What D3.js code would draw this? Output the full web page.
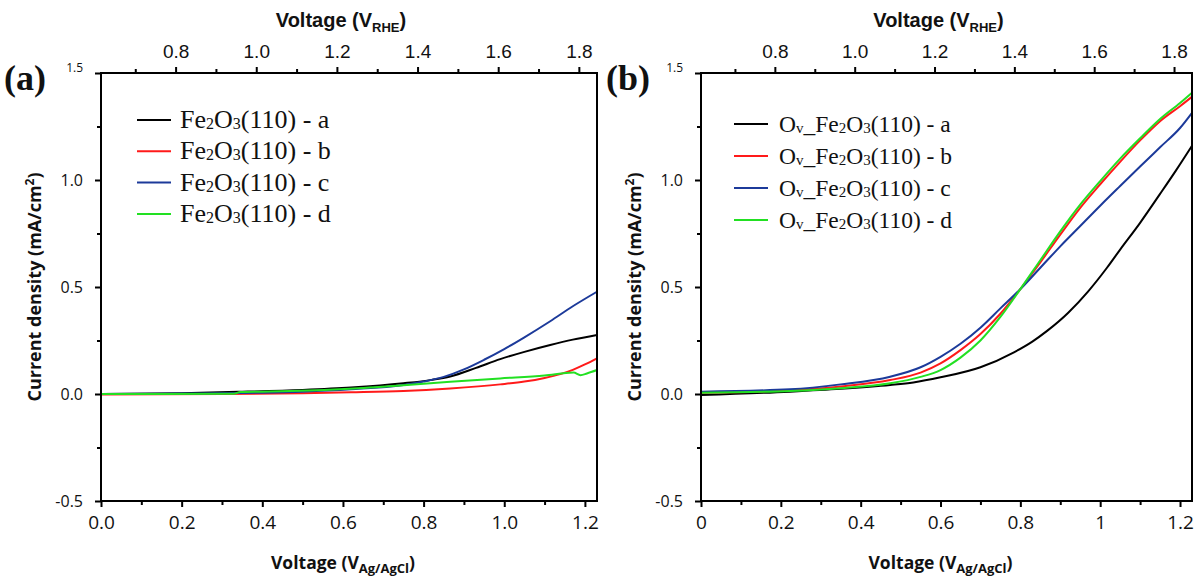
<!DOCTYPE html>
<html>
<head>
<meta charset="utf-8">
<script src="https://cdn.jsdelivr.net/npm/d3@7"></script>
<style>
  body { margin: 0; background: #ffffff; position: relative; }
  svg { display: block; }
  .box { position: absolute; box-sizing: border-box; border: 2px solid #000000; pointer-events: none; }
</style>
</head>
<body>
<svg id="chart" width="1196" height="579"></svg>
<script>
// ---- data: [V vs Ag/AgCl, current density mA/cm2] ----
const fe2o3A = [[0, 0.0], [0.2, 0.004], [0.34, 0.01], [0.5, 0.019], [0.62, 0.03], [0.75, 0.05], [0.82, 0.066], [0.866, 0.082], [0.93, 0.122], [0.99, 0.163], [1.05, 0.197], [1.114, 0.229], [1.17, 0.254], [1.23, 0.276]];
const fe2o3B = [[0, -0.002], [0.3, 0.0], [0.5, 0.004], [0.62, 0.008], [0.75, 0.014], [0.866, 0.026], [0.99, 0.045], [1.05, 0.058], [1.1, 0.075], [1.139, 0.093], [1.17, 0.113], [1.2, 0.138], [1.23, 0.167]];
const fe2o3C = [[0, 0.0], [0.2, 0.002], [0.4, 0.006], [0.5, 0.011], [0.62, 0.022], [0.75, 0.042], [0.8, 0.058], [0.85, 0.08], [0.9, 0.115], [0.95, 0.16], [1.0, 0.21], [1.05, 0.265], [1.114, 0.34], [1.17, 0.41], [1.23, 0.478]];
const fe2o3D = [[0, 0.0], [0.33, 0.001], [0.345, 0.009], [0.4, 0.011], [0.494, 0.015], [0.617, 0.025], [0.742, 0.04], [0.866, 0.057], [0.99, 0.073], [1.1, 0.087], [1.172, 0.1], [1.189, 0.088], [1.205, 0.096], [1.23, 0.112]];

const ovA = [[0, -0.005], [0.223, 0.011], [0.35, 0.024], [0.474, 0.042], [0.532, 0.054], [0.6, 0.078], [0.7, 0.125], [0.784, 0.195], [0.83, 0.245], [0.867, 0.295], [0.92, 0.38], [0.97, 0.48], [1.017, 0.59], [1.05, 0.675], [1.1, 0.8], [1.15, 0.935], [1.19, 1.045], [1.23, 1.16]];
const ovB = [[0, 0.006], [0.223, 0.017], [0.35, 0.035], [0.474, 0.065], [0.55, 0.1], [0.6, 0.143], [0.65, 0.205], [0.7, 0.28], [0.75, 0.375], [0.8, 0.49], [0.85, 0.615], [0.9, 0.745], [0.95, 0.87], [1.0, 0.98], [1.05, 1.085], [1.1, 1.185], [1.15, 1.275], [1.2, 1.345], [1.23, 1.389]];
const ovC = [[0, 0.011], [0.223, 0.022], [0.35, 0.045], [0.474, 0.081], [0.55, 0.125], [0.6, 0.174], [0.65, 0.235], [0.7, 0.31], [0.75, 0.4], [0.8, 0.49], [0.85, 0.59], [0.9, 0.69], [0.95, 0.785], [1.0, 0.88], [1.05, 0.972], [1.1, 1.063], [1.15, 1.153], [1.2, 1.243], [1.23, 1.314]];
const ovD = [[0, 0.006], [0.223, 0.014], [0.35, 0.027], [0.474, 0.05], [0.55, 0.08], [0.6, 0.112], [0.65, 0.17], [0.7, 0.25], [0.75, 0.36], [0.8, 0.49], [0.85, 0.625], [0.9, 0.76], [0.95, 0.885], [1.0, 0.995], [1.05, 1.1], [1.1, 1.195], [1.15, 1.285], [1.2, 1.36], [1.23, 1.408]];

const seriesSuffix = ['a', 'b', 'c', 'd'];
const seriesColors = ['#000000', '#ff1a1a', '#1c3a9a', '#22e022'];
const ink = '#000000';
const labelInk = '#111111';

const agTicks = [0, 0.2, 0.4, 0.6, 0.8, 1.0, 1.2];
const agMinor = [0.1, 0.3, 0.5, 0.7, 0.9, 1.1];
const rheTicks = [0.8, 1.0, 1.2, 1.4, 1.6, 1.8];
const rheMinor = [0.7, 0.9, 1.1, 1.3, 1.5, 1.7];
const jTicks = [-0.5, 0, 0.5, 1.0, 1.5];
const jMinor = [-0.25, 0.25, 0.75, 1.25];

const xMax = 1.23;       // right edge, V vs Ag/AgCl
const rheOffset = 0.615; // V_RHE = V_AgCl + offset

const svg = d3.select('#chart');
const sansBody = '"Open Sans", "DejaVu Sans", sans-serif';
const sansTop = '"Liberation Sans", Arial, sans-serif';
const serif = '"Liberation Serif", "Times New Roman", serif';
const fmt1 = d => d3.format('.1f')(d).replace('\u2212', '-');

// draws one panel; left/right are pixel edges of the plot box
function drawPanel(p) {
    const top = 73, bottom = 501;
    const x = d3.scaleLinear().domain([0, xMax]).range([p.left, p.right]);
    const xt = d3.scaleLinear().domain([rheOffset, xMax + rheOffset]).range([p.left, p.right]);
    const y = d3.scaleLinear().domain([-0.5, 1.5]).range([bottom, top]);
    const g = svg.append('g');

    // frame, drawn as filled bars 2px thick
    const frame = [
        [p.left - 1, top - 1, p.right - p.left + 2, 2], [p.right - 1, top - 1, 2, bottom - top + 2],
        [p.left - 1, bottom - 1, p.right - p.left + 2, 2], [p.left - 1, top - 1, 2, bottom - top + 2]
    ];
    g.selectAll('rect.frame').data(frame).join('rect').attr('class', 'frame')
        .attr('x', d => d[0]).attr('y', d => d[1]).attr('width', d => d[2]).attr('height', d => d[3])
        .attr('fill', ink);

    // same box once more as an html outline, placed from the scale ranges
    const [x0, x1] = x.range();
    const [y0, y1] = y.range();
    d3.select('body').append('div').attr('class', 'box')
        .style('left', `${x0 - 1}px`).style('top', `${y1 - 1}px`)
        .style('width', `${x1 - x0 + 2}px`).style('height', `${y0 - y1 + 2}px`);

    // minor + major ticks, outward; [axis, transform, class, side, length]
    const axes = [
        [d3.axisBottom(x).tickValues(agMinor).tickSize(4).tickFormat(() => ''), `translate(0,${bottom})`, null, 'b', 4],
        [d3.axisBottom(x).tickValues(agTicks).tickSize(6).tickFormat(p.agFormat), `translate(0,${bottom})`, 'bottom', 'b', 6],
        [d3.axisTop(xt).tickValues(rheMinor).tickSize(4).tickFormat(() => ''), `translate(0,${top})`, null, 't', 4],
        [d3.axisTop(xt).tickValues(rheTicks).tickSize(6).tickFormat(fmt1), `translate(0,${top})`, 'top', 't', 6],
        [d3.axisLeft(y).tickValues(jMinor).tickSize(4).tickFormat(() => ''), `translate(${p.left},0)`, null, 'l', 4],
        [d3.axisLeft(y).tickValues(jTicks).tickSize(6).tickFormat(fmt1), `translate(${p.left},0)`, 'left', 'l', 6]
    ];
    axes.forEach(([ax, tr, cls, side, len]) => {
        const a = g.append('g').attr('transform', tr).call(ax);
        a.select('.domain').remove();
        a.selectAll('.tick line').remove();
        // tick marks as small filled bars so they render the same as the frame
        a.selectAll('.tick').append('rect')
            .attr('x', side === 'l' ? -len : -1)
            .attr('y', side === 't' ? -len : (side === 'b' ? 0 : -1))
            .attr('width', side === 'l' ? len : 2)
            .attr('height', side === 'l' ? 2 : len)
            .attr('fill', ink);
        if (cls) a.attr('class', cls);
    });

    g.selectAll('.bottom text').attr('font-family', sansBody).attr('font-size', 19).attr('dy', '1.0em').attr('fill', labelInk);
    g.selectAll('.top text').attr('font-family', sansTop).attr('font-size', 19).attr('dy', '-0.3em').attr('fill', labelInk);
    g.selectAll('.left text').attr('font-family', sansBody).attr('font-size', 16).attr('fill', labelInk).attr('x', -18);
    // the 1.5 label is set smaller and raised in the original
    g.selectAll('.left .tick').filter(d => d === 1.5).select('text')
        .attr('font-size', 12).attr('dy', '-0.15em');

    // curves
    const line = d3.line().x(d => x(d[0])).y(d => y(d[1])).curve(d3.curveMonotoneX);
    p.series.forEach((s, i) => {
        g.append('path').datum(s).attr('d', line)
            .attr('fill', 'none').attr('stroke', seriesColors[i]).attr('stroke-width', 2);
    });

    // legend
    const subSize = Math.round(p.legendFont * 0.62);
    seriesSuffix.forEach((s, i) => {
        const ly = p.legendY + i * p.legendStep;
        g.append('line').attr('x1', p.legendX).attr('x2', p.legendX + 34)
            .attr('y1', ly).attr('y2', ly).attr('stroke', seriesColors[i]).attr('stroke-width', 2);
        const t = g.append('text').attr('x', p.legendX + p.textGap).attr('y', ly + 8)
            .attr('font-family', serif).attr('font-size', p.legendFont).attr('fill', labelInk);
        if (p.ov) {
            t.append('tspan').text('O');
            t.append('tspan').attr('font-size', subSize).attr('dy', 1).text('v');
            t.append('tspan').attr('dy', -1).text('_Fe');
        } else {
            t.append('tspan').text('Fe');
        }
        t.append('tspan').attr('font-size', subSize).attr('dy', 1).text('2');
        t.append('tspan').attr('dy', -1).text('O');
        t.append('tspan').attr('font-size', subSize).attr('dy', 1).text('3');
        t.append('tspan').attr('dy', -1).text(`(110) - ${s}`);
    });

    // axis titles
    const cx = (p.left + p.right) / 2;
    const tt = g.append('text').attr('x', cx - 8).attr('y', 27).attr('text-anchor', 'middle')
        .attr('font-family', sansTop).attr('font-weight', 'bold').attr('font-size', 20).attr('fill', labelInk);
    tt.append('tspan').text('Voltage (V');
    tt.append('tspan').attr('font-size', 13).attr('dy', 5).text('RHE');
    tt.append('tspan').attr('dy', -5).text(')');

    const bt = g.append('text').attr('x', cx - 6).attr('y', 569).attr('text-anchor', 'middle')
        .attr('font-family', sansBody).attr('font-weight', 'bold').attr('font-size', 17.5).attr('fill', labelInk);
    bt.append('tspan').text('Voltage (V');
    bt.append('tspan').attr('font-size', 13).attr('dy', 4).text('Ag/AgCl');
    bt.append('tspan').attr('dy', -4).text(')');

    const yl = g.append('text')
        .attr('transform', `translate(${p.left - 60},${(top + bottom) / 2}) rotate(-90)`)
        .attr('text-anchor', 'middle').attr('fill', labelInk)
        .attr('font-family', sansBody).attr('font-weight', 'bold').attr('font-size', 18);
    yl.append('tspan').text('Current density (mA/cm');
    yl.append('tspan').attr('font-size', 12).attr('dy', -7).text('2');
    yl.append('tspan').attr('dy', 7).text(')');

    // panel tag
    g.append('text').attr('x', p.tagX).attr('y', 90).attr('fill', labelInk)
        .attr('font-family', serif).attr('font-weight', 'bold').attr('font-size', 36)
        .text(p.tag);
}

drawPanel({
    left: 101, right: 597, tag: '(a)', tagX: 4,
    series: [fe2o3A, fe2o3B, fe2o3C, fe2o3D],
    agFormat: fmt1,
    legendX: 137, legendY: 120, legendStep: 31.3, legendFont: 26, textGap: 43, ov: false
});
drawPanel({
    left: 701, right: 1192, tag: '(b)', tagX: 606,
    series: [ovA, ovB, ovC, ovD],
    agFormat: d => (d === 0 || d === 1) ? String(d) : fmt1(d),
    legendX: 734, legendY: 124, legendStep: 32, legendFont: 23.5, textGap: 45, ov: true
});
</script>
</body>
</html>
